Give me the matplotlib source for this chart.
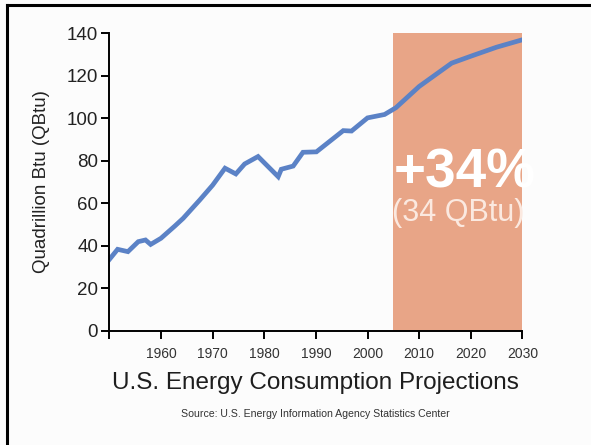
import matplotlib.pyplot as plt
from matplotlib.patches import Rectangle
from matplotlib.lines import Line2D

plt.rcParams['font.family'] = ['Liberation Sans', 'DejaVu Sans']

# Historical + projected consumption
years = [1950, 1951.6, 1953.6, 1955.6, 1957, 1958, 1960, 1962.7, 1964.3,
         1967.5, 1970, 1972.4, 1974.5, 1976.2, 1978.8, 1982.7, 1983.3,
         1985.6, 1987.5, 1990.1, 1995.3, 1996.9, 2000, 2003.3, 2005.5,
         2010, 2016.3, 2020.3, 2025, 2030]
qbtu = [33.5, 38.3, 37.2, 41.9, 42.7, 40.6, 43.5, 49.3, 52.9,
        61.5, 68.5, 76.5, 73.8, 78.5, 82.0, 72.5, 76.0,
        77.5, 84.0, 84.2, 94.2, 94.0, 100.2, 101.8, 105.0,
        115.0, 126.0, 129.5, 133.5, 137.0]

proj_start = 2005
proj_end = 2030
xticks = [1950, 1960, 1970, 1980, 1990, 2000, 2010, 2020, 2030]
xticklabels = ['', '1960', '1970', '1980', '1990', '2000', '2010', '2020', '2030']
yticks = [0, 20, 40, 60, 80, 100, 120, 140]

fig = plt.figure(figsize=(5.91, 4.45), dpi=100)
fig.patch.set_facecolor('#fcfcfc')
ax = fig.add_axes([0.185, 0.257, 0.699, 0.668])
ax.set_facecolor('#fcfcfc')

# frame lines on the left and top of the picture
fig.add_artist(Line2D([0.012, 0.012], [0, 0.989], color='black', lw=2.2))
fig.add_artist(Line2D([0.012, 1.0], [0.989, 0.989], color='black', lw=2.2))

# projection box
box = Rectangle((proj_start, 0), proj_end - proj_start, 140,
                facecolor='#e8a587', edgecolor='none', zorder=1)
ax.add_patch(box)

ax.plot(years, qbtu, color='#5b82c6', lw=3.4, zorder=3, solid_joinstyle='miter')

t1 = ax.text((proj_start + proj_end) / 2 + 1.3, 74, '+34%', color='white',
             fontsize=39.5, fontweight='bold', ha='center', va='center', zorder=4)
t1.set_clip_path(box)
t2 = ax.text((proj_start + proj_end) / 2, 55.5, '(34 QBtu)', color='#fbe9e0',
             fontsize=22, ha='center', va='center', zorder=4)
t2.set_clip_path(box)

ax.set_xlim(1950, 2030)
ax.set_ylim(0, 140)
ax.set_xticks(xticks)
ax.set_xticklabels(xticklabels, fontsize=10, color='#333333')
ax.set_yticks(yticks)
ax.set_yticklabels([str(v) for v in yticks], fontsize=13.5, color='#222222')
ax.tick_params(axis='both', direction='out', length=6, width=1.4, colors='black')
ax.tick_params(axis='x', labelcolor='#333333', pad=6)
ax.tick_params(axis='y', labelcolor='#222222', pad=2)
for s in ['top', 'right']:
    ax.spines[s].set_visible(False)
for s in ['left', 'bottom']:
    ax.spines[s].set_linewidth(1.4)
    ax.spines[s].set_zorder(5)

ax.set_ylabel('Quadrillion Btu (QBtu)', fontsize=13.5, color='#222222', labelpad=12)

fig.text(0.534, 0.139, 'U.S. Energy Consumption Projections', fontsize=17.5,
         color='#1e1e1e', ha='center', va='center')
fig.text(0.534, 0.069, 'Source: U.S. Energy Information Agency Statistics Center',
         fontsize=7.6, color='#333333', ha='center', va='center')

fig.savefig('out.png', dpi=100, facecolor=fig.get_facecolor())
